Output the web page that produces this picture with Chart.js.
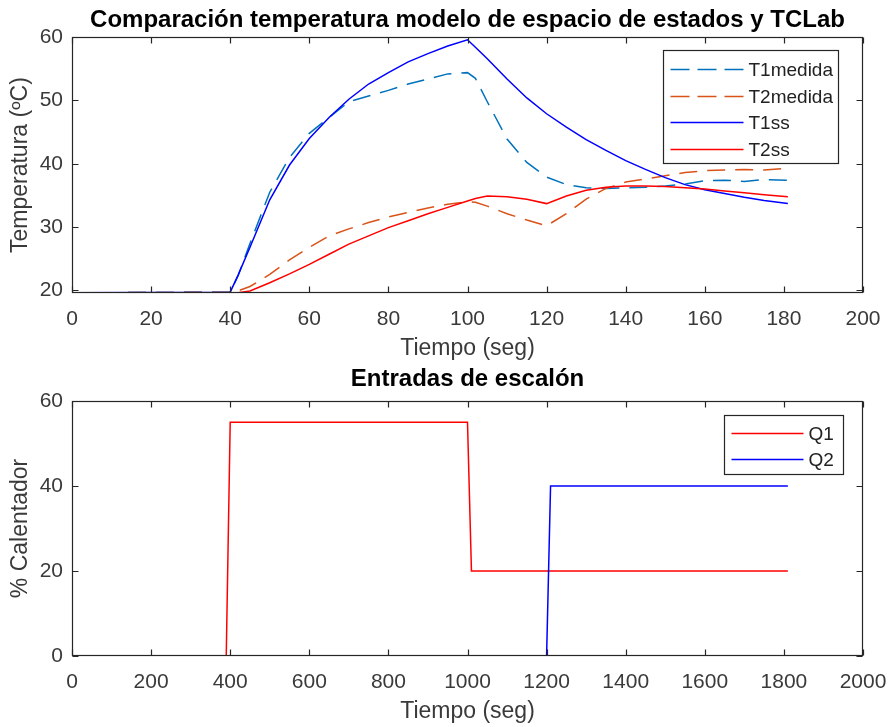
<!DOCTYPE html>
<html>
<head>
<meta charset="utf-8">
<script src="https://cdn.jsdelivr.net/npm/chart.js@4"></script>
<style>
  html, body { margin: 0; padding: 0; background: #fff; }
  #wrap { position: relative; width: 893px; height: 727px; }
  canvas { position: absolute; left: 0; }
  #top { top: 0; }
  #bottom { top: 364px; }
</style>
</head>
<body>
<div id="wrap">
  <canvas id="top" width="893" height="364"></canvas>
  <canvas id="bottom" width="893" height="363"></canvas>
</div>
<script>
// --- upper plot: temperatures (x = sample index) ---
const tempTime = [0, 40, 42, 45, 50, 55, 60, 65, 70, 75, 80, 85, 90, 95, 100, 102, 105,
  110, 115, 120, 125, 130, 135, 140, 145, 150, 155, 160, 165, 170, 175, 181];
const t1Medida = [19.6, 19.7, 22.3, 27.4, 35.5, 41.0, 44.8, 47.3, 49.8, 50.7, 51.6, 52.6, 53.4, 54.2, 54.4, 53.5, 49.8,
  43.9, 40.2, 37.9, 36.7, 36.2, 36.1, 36.2, 36.3, 36.5, 36.8, 37.3, 37.4, 37.2, 37.5, 37.4];
const t2Medida = [19.6, 19.7, 19.9, 20.6, 22.5, 24.8, 26.8, 28.6, 29.7, 30.7, 31.6, 32.3, 33.0, 33.6, 34.0, 33.9, 33.3,
  32.1, 31.1, 30.2, 32.1, 34.4, 36.1, 37.1, 37.6, 38.1, 38.6, 38.9, 39.0, 39.1, 39.0, 39.3];
const t1ss = [19.6, 19.7, 22.4, 26.8, 34.3, 39.8, 44.0, 47.3, 50.2, 52.6, 54.4, 56.1, 57.4, 58.6, 59.6, 58.4, 56.6,
  53.4, 50.4, 47.9, 45.8, 43.8, 42.1, 40.5, 39.1, 37.8, 36.7, 35.9, 35.3, 34.7, 34.2, 33.7];
const t2ss = [19.6, 19.6, 19.6, 19.9, 21.2, 22.6, 24.1, 25.7, 27.3, 28.6, 29.9, 31.0, 32.1, 33.1, 34.1, 34.5, 34.9,
  34.8, 34.4, 33.7, 34.9, 35.8, 36.3, 36.5, 36.5, 36.4, 36.2, 36.0, 35.7, 35.4, 35.1, 34.8];
const tempXTicks = [0, 20, 40, 60, 80, 100, 120, 140, 160, 180, 200];
const tempYTicks = [20, 30, 40, 50, 60];

// --- lower plot: heater step inputs (x = seconds) ---
const stepTime = [0, 390, 400, 1000, 1010, 1200, 1210, 1810];
const q1 = [0, 0, 55, 55, 20, 20, 20, 20];
const q2 = [0, 0, 0, 0, 0, 0, 40, 40];
const stepXTicks = [0, 200, 400, 600, 800, 1000, 1200, 1400, 1600, 1800, 2000];
const stepYTicks = [0, 20, 40, 60];

const FONT = "'Liberation Sans', Arial, Helvetica, sans-serif";
const AXIS_COLOR = '#262626';
const TEXT_COLOR = '#3a3a3a';

const pts = (xs, ys) => xs.map((x, i) => ({ x: x, y: ys[i] }));

// MATLAB-like box with inward ticks on every side
const boxAxes = {
  id: 'boxAxes',
  afterDatasetsDraw(chart) {
    const { ctx, chartArea: a, scales } = chart;
    const L = Math.round(a.left) + 0.5, R = Math.round(a.right) - 0.5;
    const T = Math.round(a.top) + 0.5, B = Math.round(a.bottom) - 0.5;
    const len = 6;
    ctx.save();
    ctx.strokeStyle = AXIS_COLOR;
    ctx.lineWidth = 1.2;
    ctx.strokeRect(L, T, R - L, B - T);
    ctx.beginPath();
    scales.x.ticks.forEach(t => {
      const px = Math.round(scales.x.getPixelForValue(t.value)) + 0.5;
      ctx.moveTo(px, B); ctx.lineTo(px, B - len);
      ctx.moveTo(px, T); ctx.lineTo(px, T + len);
    });
    scales.y.ticks.forEach(t => {
      const py = Math.round(scales.y.getPixelForValue(t.value)) + 0.5;
      ctx.moveTo(L, py); ctx.lineTo(L + len, py);
      ctx.moveTo(R, py); ctx.lineTo(R - len, py);
    });
    ctx.stroke();
    ctx.restore();
  }
};

// legend box inside the axes, top right
const boxLegend = {
  id: 'boxLegend',
  afterDraw(chart, args, opts) {
    const { ctx, chartArea: a } = chart;
    const x0 = Math.round(a.right - opts.right - opts.width) + 0.5;
    const y0 = Math.round(a.top + opts.top) + 0.5;
    ctx.save();
    ctx.fillStyle = '#fff';
    ctx.fillRect(x0, y0, opts.width, opts.height);
    ctx.strokeStyle = AXIS_COLOR;
    ctx.lineWidth = 1.2;
    ctx.strokeRect(x0, y0, opts.width, opts.height);
    ctx.font = '19px ' + FONT;
    ctx.textBaseline = 'middle';
    ctx.fillStyle = '#222';
    chart.data.datasets.forEach((ds, i) => {
      const y = Math.round(y0 + opts.first + i * opts.step) + 0.5;
      ctx.strokeStyle = ds.borderColor;
      ctx.lineWidth = ds.borderWidth;
      ctx.setLineDash(ds.borderDash ? [19, 8] : []);
      ctx.beginPath();
      ctx.moveTo(x0 + 7, y);
      ctx.lineTo(x0 + 7 + opts.lineLen, y);
      ctx.stroke();
      ctx.setLineDash([]);
      ctx.fillText(ds.label, x0 + 12 + opts.lineLen, y + 1);
    });
    ctx.restore();
  }
};

function lineSet(label, data, color, dashed, order) {
  return {
    label: label,
    data: data,
    borderColor: color,
    borderWidth: 1.5,
    borderDash: dashed ? [18, 10] : undefined,
    pointRadius: 0,
    tension: 0,
    fill: false,
    order: order
  };
}

function axisOpts(xTicks, yTicks, xMin, xMax, yMin, yMax, yTitle) {
  return {
    x: {
      type: 'linear',
      min: xMin, max: xMax,
      afterBuildTicks: s => { s.ticks = xTicks.map(v => ({ value: v })); },
      afterFit: s => { s.height = 71; s.paddingLeft = 0; s.paddingRight = 0; },
      grid: { display: false, drawTicks: false, tickLength: 0 },
      border: { display: false },
      ticks: { color: TEXT_COLOR, font: { family: FONT, size: 21 }, padding: 14, maxRotation: 0, autoSkip: false,
        callback: v => String(v) },
      title: { display: true, text: 'Tiempo (seg)', color: TEXT_COLOR, font: { family: FONT, size: 23 }, padding: { top: 0, bottom: 2 } }
    },
    y: {
      min: yMin, max: yMax,
      afterBuildTicks: s => { s.ticks = yTicks.map(v => ({ value: v })); },
      afterFit: s => { s.width = 72; s.paddingTop = 0; s.paddingBottom = 0; },
      grid: { display: false, drawTicks: false, tickLength: 0 },
      border: { display: false },
      ticks: { color: TEXT_COLOR, font: { family: FONT, size: 21 }, padding: 9, callback: v => String(v) },
      title: { display: true, text: yTitle, color: TEXT_COLOR, font: { family: FONT, size: 23 }, padding: { top: 7, bottom: 0 } }
    }
  };
}

new Chart(document.getElementById('top'), {
  type: 'line',
  data: {
    datasets: [
      lineSet('T1medida', pts(tempTime, t1Medida), '#0072BD', true, 4),
      lineSet('T2medida', pts(tempTime, t2Medida), '#D95319', true, 3),
      lineSet('T1ss', pts(tempTime, t1ss), '#0000FF', false, 2),
      lineSet('T2ss', pts(tempTime, t2ss), '#FF0000', false, 1)
    ]
  },
  options: {
    responsive: false,
    animation: false,
    devicePixelRatio: 1,
    layout: { padding: { left: 0, right: 30, top: 0, bottom: 0 } },
    scales: axisOpts(tempXTicks, tempYTicks, 0, 200, 19.57, 60, 'Temperatura (ºC)'),
    plugins: {
      legend: { display: false },
      tooltip: { enabled: false },
      title: {
        display: true, fullSize: false,
        text: 'Comparación temperatura modelo de espacio de estados y TCLab',
        color: '#000', font: { family: FONT, size: 24, weight: 'bold' },
        padding: { top: 5.5, bottom: 2.9 }
      },
      boxLegend: { right: 25, top: 13, width: 175, height: 113, first: 18.3, step: 26.7, lineLen: 73 }
    }
  },
  plugins: [boxAxes, boxLegend]
});

new Chart(document.getElementById('bottom'), {
  type: 'line',
  data: {
    datasets: [
      lineSet('Q1', pts(stepTime, q1), '#FF0000', false, 2),
      lineSet('Q2', pts(stepTime, q2), '#0000FF', false, 1)
    ]
  },
  options: {
    responsive: false,
    animation: false,
    devicePixelRatio: 1,
    layout: { padding: { left: 0, right: 30, top: 0, bottom: 0 } },
    scales: axisOpts(stepXTicks, stepYTicks, 0, 2000, 0, 60, '% Calentador'),
    plugins: {
      legend: { display: false },
      tooltip: { enabled: false },
      title: {
        display: true, fullSize: false,
        text: 'Entradas de escalón',
        color: '#000', font: { family: FONT, size: 24, weight: 'bold' },
        padding: { top: 1, bottom: 7.2 }
      },
      boxLegend: { right: 20, top: 14, width: 119, height: 59, first: 17.3, step: 26, lineLen: 72 }
    }
  },
  plugins: [boxAxes, boxLegend]
});
</script>
</body>
</html>
